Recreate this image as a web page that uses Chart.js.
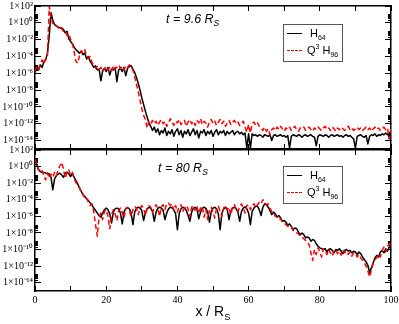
<!DOCTYPE html>
<html><head><meta charset="utf-8">
<script src="https://cdn.jsdelivr.net/npm/chart.js@4/dist/chart.umd.min.js"></script>
<style>
html,body{margin:0;padding:0;background:#fff;}
#wrap{position:relative;width:399px;height:324px;overflow:hidden;background:#fff;}
canvas{position:absolute;left:0;}
#c1{top:0;}
#c2{top:140px;}
.lbl{position:absolute;font-family:"Liberation Sans",Arial,sans-serif;font-style:italic;font-size:12.5px;line-height:1;white-space:nowrap;color:#000;z-index:5;}
.lbl sub{font-size:8.5px;vertical-align:-3px;line-height:0;}
.legend{position:absolute;width:60px;height:38px;border:1px solid #555;box-sizing:border-box;font-family:"Liberation Sans",Arial,sans-serif;font-size:11px;color:#000;z-index:5;}
.legend .smp{position:absolute;left:3px;width:15px;height:0;}
.legend .txt{position:absolute;white-space:nowrap;line-height:1;}
.legend sub{font-size:7px;vertical-align:-3px;line-height:0;}
.legend sup{font-size:7px;vertical-align:5px;line-height:0;}
#xtitle{position:absolute;left:35px;width:356px;top:304px;text-align:center;font-family:"Liberation Sans",Arial,sans-serif;font-size:14px;line-height:1;color:#000;z-index:5;}
#xtitle sub{font-size:9.5px;vertical-align:-4px;line-height:0;}
</style></head>
<body>
<div id="wrap">
<canvas id="c1" width="399" height="152"></canvas>
<canvas id="c2" width="399" height="184"></canvas>
<div class="lbl" style="left:166px;top:13px;">t = 9.6 R<sub>S</sub></div>
<div class="lbl" style="left:158px;top:162px;">t = 80 R<sub>S</sub></div>
<div class="legend" style="left:283px;top:24px;">
  <div class="smp" style="top:8px;border-top:1.5px solid #000;"></div>
  <div class="txt" style="left:26px;top:3px;">H<sub>64</sub></div>
  <div class="smp" style="top:25px;border-top:1.5px dashed #ff0000;"></div>
  <div class="txt" style="left:23px;top:20px;">Q<sup>3</sup> H<sub>96</sub></div>
</div>
<div class="legend" style="left:283px;top:166px;">
  <div class="smp" style="top:8px;border-top:1.5px solid #000;"></div>
  <div class="txt" style="left:26px;top:3px;">H<sub>64</sub></div>
  <div class="smp" style="top:25px;border-top:1.5px dashed #ff0000;"></div>
  <div class="txt" style="left:23px;top:20px;">Q<sup>3</sup> H<sub>96</sub></div>
</div>
<div id="xtitle">x / R<sub>S</sub></div>
</div>
<script>
// x positions (x / R_S)
const xValues = [
0,0.5,1,1.5,2,2.5,3,3.5,4,4.5,5,5.5,6,6.5,7,7.5,8,8.5,9,9.5,
10,10.5,11,11.5,12,12.5,13,13.5,14,14.5,15,15.5,16,16.5,17,17.5,18,18.5,19,19.5,
20,20.5,21,21.5,22,22.5,23,23.5,24,24.5,25,25.5,26,26.5,27,27.5,28,28.5,29,29.5,
30,30.5,31,31.5,32,32.5,33,33.5,34,34.5,35,35.5,36,36.5,37,37.5,38,38.5,39,39.5,
40,40.5,41,41.5,42,42.5,43,43.5,44,44.5,45,45.5,46,46.5,47,47.5,48,48.5,49,49.5,
50,50.5,51,51.5,52,52.5,53,53.5,54,54.5,55,55.5,56,56.5,57,57.5,58,58.5,59,59.5,
60,60.5,61,61.5,62,62.5,63,63.5,64,64.5,65,65.5,66,66.5,67,67.5,68,68.5,69,69.5,
70,70.5,71,71.5,72,72.5,73,73.5,74,74.5,75,75.5,76,76.5,77,77.5,78,78.5,79,79.5,
80,80.5,81,81.5,82,82.5,83,83.5,84,84.5,85,85.5,86,86.5,87,87.5,88,88.5,89,89.5,
90,90.5,91,91.5,92,92.5,93,93.5,94,94.5,95,95.5,96,96.5,97,97.5,98,98.5,99,99.5,
100];

// t = 9.6 R_S, H64
const topH64 = [
1.3e-6,4e-6,2.5e-6,1e-5,5e-6,2.5e-5,4e-5,2.5e-4,3.2e-2,16,
2,0.63,0.4,0.32,0.25,0.25,0.16,0.063,0.1,0.0126,
6.3e-3,3.2e-3,1.26e-3,6.3e-4,4e-4,2.5e-4,4e-4,1.6e-4,2.5e-4,5e-5,
1e-4,2.5e-5,1.26e-5,5e-6,8e-6,2.5e-6,3.2e-6,1.26e-7,2e-6,4e-6,
1.6e-6,5e-6,6.3e-7,3.2e-6,2.5e-6,5e-6,1e-7,2.5e-6,4e-6,1.6e-6,
5e-6,5e-7,4e-6,6.3e-6,8e-6,3.2e-6,1.26e-6,3.2e-7,6.3e-8,1e-8,
1.26e-9,2e-10,3.2e-11,6.3e-12,1.26e-12,5e-13,1.6e-13,4e-13,1e-13,2.5e-13,
5e-14,1.6e-13,8e-14,3.2e-13,4e-14,1.26e-13,6.3e-14,2e-13,3.2e-14,1.26e-13,
2.5e-13,5e-14,1.6e-13,2.5e-14,1.26e-13,6.3e-14,2e-13,4e-14,1e-13,2.5e-13,
5e-14,1.6e-13,2e-14,1.26e-13,8e-14,2e-13,4e-14,1.26e-13,6.3e-14,1.6e-13,
3.2e-14,1e-13,2e-13,5e-14,1.26e-13,8e-14,1.6e-13,4e-14,1.26e-13,6.3e-14,
1e-13,1.6e-13,5e-14,1e-13,1.26e-13,6.3e-14,1e-13,5e-14,8e-14,1.26e-15,
6.3e-14,1.26e-15,6.3e-14,4e-14,5e-14,3.2e-14,5e-14,4e-14,2.5e-14,5e-14,
4e-14,3.2e-14,5e-14,1e-14,4e-14,5e-14,3.2e-14,4e-14,5e-14,3.2e-14,
4e-14,2.5e-14,4e-14,1.26e-15,3.2e-14,5e-14,4e-14,3.2e-14,5e-14,4e-14,
2.5e-14,4e-14,5e-14,3.2e-14,4e-14,5e-14,3.2e-14,2.5e-14,2.5e-15,3.2e-14,
5e-14,4e-14,3.2e-14,5e-14,4e-14,2.5e-14,4e-14,5e-14,3.2e-14,4e-14,
5e-14,3.2e-14,4e-14,2.5e-14,4e-14,5e-14,3.2e-14,4e-14,2.5e-14,1.6e-14,
1.26e-15,3.2e-14,4e-14,5e-14,3.2e-14,2.5e-14,4e-14,4e-15,3.2e-14,5e-14,
4e-14,6.3e-14,3.2e-14,5e-14,4e-14,6.3e-14,5e-14,8e-14,5e-14,1e-13,
6.3e-14];

// t = 9.6 R_S, Q3 H96
const topQ3H96 = [
1.6e-6,6.3e-6,3.2e-6,1.6e-5,4e-5,1.26e-5,6.3e-5,1.26e-4,95,4,
0.8,1,0.5,0.25,0.4,0.2,0.1,0.126,0.032,0.05,
0.01,4e-3,3.2e-4,2.5e-5,1.6e-5,1.26e-4,5e-4,2.5e-4,6.3e-4,1.26e-4,
6.3e-5,1e-4,2e-5,1e-5,4e-6,6.3e-6,2.5e-6,5e-6,1.6e-6,3.2e-6,
6.3e-6,2.5e-6,5e-6,2e-6,8e-6,3.2e-6,5e-6,1e-5,4e-6,6.3e-6,
2.5e-6,8e-6,5e-6,1e-5,6.3e-6,2.5e-6,4e-7,5e-8,6.3e-9,6.3e-10,
6.3e-11,1e-11,3.2e-12,3.2e-13,1.6e-12,8e-13,2.5e-12,1e-12,2e-12,6.3e-13,
1.6e-12,3.2e-12,1e-12,2e-12,5e-13,1.26e-12,4e-12,1.6e-12,6.3e-13,2e-12,
1.26e-12,3.2e-12,8e-13,1.6e-12,2.5e-12,5e-13,1.6e-12,3.2e-12,1e-12,2e-12,
6.3e-13,2.5e-12,1.26e-12,4e-12,8e-13,2e-12,1.26e-12,4e-13,1.6e-12,3.2e-12,
1e-12,2e-12,6.3e-13,1.6e-12,3.2e-12,1e-12,2e-12,5e-13,1.26e-12,2.5e-12,
8e-13,1.6e-12,2.5e-12,1e-12,1.6e-12,6.3e-13,1.26e-12,2e-12,4e-13,1e-13,
8e-13,8e-14,1e-12,1.6e-12,6.3e-13,1.26e-12,5e-13,3.2e-13,1.6e-13,4e-13,
1.26e-13,2.5e-13,5e-14,2e-13,3.2e-13,1.6e-13,4e-13,2e-13,5e-13,2.5e-13,
1.26e-13,3.2e-13,2e-13,4e-13,1.6e-13,3.2e-13,5e-13,2e-13,1.26e-13,3.2e-13,
2.5e-13,4e-13,1.6e-13,2.5e-13,4e-13,2e-13,1.26e-13,3.2e-13,2e-13,4e-13,
2.5e-13,1.6e-13,3.2e-13,5e-13,2e-13,3.2e-13,1.6e-13,4e-13,2.5e-13,1.26e-13,
3.2e-13,2e-13,4e-13,2.5e-13,1.6e-13,3.2e-13,5e-13,2e-13,3.2e-13,1.6e-13,
2.5e-13,4e-13,2e-13,3.2e-13,1.6e-13,2.5e-13,4e-13,2e-13,3.2e-13,1.26e-13,
2.5e-13,4e-13,2e-13,3.2e-13,1.6e-13,2.5e-13,4e-13,2e-13,3.2e-13,1.6e-14,
2.5e-13];

// t = 80 R_S, H64
const botH64 = [
10,1.6,0.4,0.25,0.2,0.2,0.16,0.16,0.126,0.05,
1.6e-3,0.032,0.08,0.126,0.16,0.1,0.05,0.16,0.22,0.126,
0.063,0.16,0.05,0.02,8e-3,2.5e-3,1e-3,4e-4,2.5e-4,1.26e-4,
8e-5,4e-5,2.5e-5,1e-5,5e-6,2.5e-6,1.26e-6,8e-7,2.5e-6,6.3e-6,
1e-5,6.3e-6,2e-6,1.6e-7,3.2e-6,8e-6,1e-5,8e-6,2.5e-6,1.26e-7,
3.2e-6,9e-6,1.1e-5,8e-6,2.5e-6,1e-7,3.2e-6,9e-6,1.26e-5,1e-5,
5e-6,3.2e-7,2.5e-6,8e-6,1.26e-5,1e-5,4e-6,2.5e-7,3.2e-6,9e-6,
1.26e-5,1e-5,5e-6,4e-7,2.5e-6,8e-6,1.26e-5,1.1e-5,6.3e-6,2e-6,
2.5e-8,2e-6,8e-6,1.26e-5,1.1e-5,5e-6,1.26e-6,2.5e-7,3.2e-6,1e-5,
1.26e-5,8e-6,5e-7,3.2e-6,1e-5,1.26e-5,9e-6,3.2e-6,2e-7,3.2e-6,
1e-5,1.26e-5,8e-6,2e-6,2.5e-8,2.5e-6,8e-6,1.26e-5,6.3e-6,4e-7,
4e-6,1e-5,1.26e-5,8e-6,3.2e-6,2.5e-7,4e-6,1e-5,1.4e-5,8e-6,
2.5e-6,1e-7,4e-6,1e-5,1.6e-5,1.6e-5,6.3e-6,1.26e-6,1.26e-5,3.2e-5,
2.5e-5,1.26e-5,5e-6,1.6e-6,3.2e-6,2e-6,8e-7,1.26e-6,6.3e-7,2.5e-7,
3.2e-7,2e-7,8e-8,1.26e-7,6.3e-8,2.5e-8,4e-8,3.2e-8,1.26e-8,6.3e-9,
1e-8,6.3e-9,2.5e-9,3.2e-9,2.5e-9,1e-9,1.6e-9,1.26e-9,5e-10,2.5e-10,
1.6e-10,1.26e-10,1e-10,1.26e-10,5e-11,1e-10,1.26e-10,8e-11,4e-11,1e-10,
8e-11,1.26e-10,6.3e-11,3.2e-11,8e-11,1e-10,6.3e-11,8e-11,4e-11,6.3e-11,
5e-11,2.5e-11,5e-11,3.2e-11,1.26e-11,6.3e-12,3.2e-12,1.26e-12,1.6e-13,6.3e-13,
2.5e-12,1e-11,2e-11,1.26e-11,5e-11,8e-11,4e-11,1.26e-10,6.3e-11,2e-10,
1.6e-10];

// t = 80 R_S, Q3 H96
const botQ3H96 = [
8,2,0.5,0.2,0.32,0.08,0.025,0.16,0.04,0.126,
0.05,0.2,0.08,0.4,1.26,3.2,0.5,0.04,0.25,0.4,
0.1,0.2,0.032,0.0126,5e-3,3.2e-3,6.3e-4,5e-4,1.26e-4,1.6e-4,
5e-5,2e-5,3.2e-5,4e-6,1e-7,4e-9,1e-6,2.5e-6,4e-7,4e-6,
6.3e-6,1e-6,3.2e-8,1.6e-6,6.3e-6,2e-6,3.2e-7,5e-6,1e-5,3.2e-6,
6.3e-7,8e-6,1.26e-5,5e-6,1e-6,6.3e-6,1.6e-5,1e-5,1.6e-6,8e-6,
2e-5,1e-5,1.26e-6,1e-5,2e-5,1.26e-5,2.5e-6,1.26e-5,2.5e-5,1e-5,
1e-6,1.6e-5,2.5e-5,6.3e-6,3.2e-5,4e-5,2e-5,3.2e-5,5e-6,2e-5,
3.2e-6,1.6e-5,2.5e-5,4e-6,1e-5,2e-5,8e-6,1e-6,1.26e-5,2e-5,
5e-6,1.6e-5,2.5e-6,1e-5,1.6e-5,8e-7,6.3e-6,4e-7,5e-6,1.26e-5,
3.2e-6,6.3e-7,1e-5,1.6e-5,4e-6,1e-6,1e-5,2e-5,6.3e-6,1.26e-5,
1.6e-6,1.6e-5,2.5e-5,8e-6,3.2e-6,1.6e-5,3.2e-5,1e-5,2.5e-6,2e-5,
2.5e-5,6.3e-6,2e-5,3.2e-5,1e-5,2.5e-5,5e-5,3.2e-5,1e-4,5e-5,
2.5e-5,3.2e-5,1e-5,4e-6,2.5e-6,1e-6,8e-7,4e-7,5e-7,2e-7,
1.6e-7,1e-7,6.3e-8,4e-8,5e-8,2e-8,1.6e-8,1e-8,8e-9,4e-9,
3.2e-9,2e-9,1.26e-9,6.3e-10,4e-10,4e-11,5e-12,1e-10,2.5e-11,1.6e-10,
5e-11,1.26e-11,1.26e-10,6.3e-11,2.5e-11,1e-10,4e-11,1.6e-11,6.3e-11,1e-10,
3.2e-11,6.3e-11,2e-11,8e-11,4e-11,6.3e-11,2.5e-11,5e-11,1.6e-11,4e-11,
3.2e-11,1.26e-11,2.5e-11,1e-11,5e-12,2.5e-12,1e-12,2.5e-13,5e-14,4e-13,
2e-12,6.3e-12,1e-11,2.5e-11,1.26e-11,6.3e-11,2e-10,5e-11,2.5e-10,5e-10,
3.2e-10];

const seriesNames = ['H64', 'Q3 H96'];
const yTickValues = [1e2, 1e0, 1e-2, 1e-4, 1e-6, 1e-8, 1e-10, 1e-12, 1e-14];
const yTickLabels = ['1×10²','1×10⁰','1×10⁻²','1×10⁻⁴','1×10⁻⁶','1×10⁻⁸','1×10⁻¹⁰','1×10⁻¹²','1×10⁻¹⁴'];
const xTickLabels = [0, 20, 40, 60, 80, 100];
const Y_MIN = 1e-15, Y_MAX = 1e2;

const yMinorTicks = [];
yTickValues.forEach(v => { for (let m = 2; m <= 9; m++) { const t = v * m; if (t >= Y_MIN && t <= Y_MAX) yMinorTicks.push(t); } });

const SERIF = '"Liberation Serif", "Times New Roman", serif';

function zeroPad(s) { s.paddingTop = 0; s.paddingBottom = 0; s.paddingLeft = 0; s.paddingRight = 0; }

function yAxis(position, list, len, labels, border, weight) {
  return {
    type: 'logarithmic', position, min: Y_MIN, max: Y_MAX, weight,
    afterBuildTicks: s => { s.ticks = list.map(v => ({ value: v })); },
    afterFit: s => { s.width = labels ? 35 : 0; zeroPad(s); },
    border: { display: border, color: '#000', width: 1.5 },
    grid: { drawOnChartArea: false, drawTicks: true, tickLength: len, tickColor: '#000', tickWidth: 1 },
    ticks: {
      display: labels, autoSkip: false, padding: 8, color: '#000',
      font: { family: SERIF, size: 10 },
      callback: v => { const i = yTickValues.findIndex(t => Math.abs(t - v) / t < 1e-6); return i >= 0 ? yTickLabels[i] : ''; }
    }
  };
}
function xAxis(position, labels, height) {
  return {
    type: 'linear', position, min: 0, max: 100,
    afterFit: s => { s.height = height; zeroPad(s); },
    border: { display: true, color: '#000', width: 1.5 },
    grid: { drawOnChartArea: false, drawTicks: true, tickLength: -5, tickColor: '#000', tickWidth: 1 },
    ticks: {
      display: labels, stepSize: 10, autoSkip: false, maxRotation: 0, padding: 8, color: '#000',
      font: { family: SERIF, size: 10 },
      callback: v => xTickLabels.includes(v) ? String(v) : ''
    }
  };
}
function pts(arr) { return xValues.map((x, i) => ({ x, y: arr[i] })); }

function makeChart(id, h64, q3, showX, padding, xHeight) {
  return new Chart(document.getElementById(id), {
    type: 'line',
    data: {
      datasets: [
        { label: seriesNames[0], data: pts(h64), borderColor: '#000', borderWidth: 1.5, pointRadius: 0, tension: 0, borderJoinStyle: 'round', order: 2, xAxisID: 'x', yAxisID: 'y' },
        { label: seriesNames[1], data: pts(q3), borderColor: '#ff0000', borderWidth: 1.5, borderDash: [5, 3], pointRadius: 0, tension: 0, borderJoinStyle: 'round', order: 1, xAxisID: 'x', yAxisID: 'y' }
      ]
    },
    options: {
      responsive: false, animation: false, events: [],
      layout: { padding },
      plugins: { legend: { display: false }, tooltip: { enabled: false } },
      scales: {
        x: xAxis('bottom', showX, xHeight),
        xT: xAxis('top', false, 0),
        y: yAxis('left', yTickValues, -6, true, true, 2),
        yMinL: yAxis('left', yMinorTicks, -3, false, false, 0),
        yR: yAxis('right', yTickValues, -6, false, true, 0),
        yMinR: yAxis('right', yMinorTicks, -3, false, false, 2)
      }
    }
  });
}

makeChart('c1', topH64, topQ3H96, false, { left: 0, right: 8, top: 6, bottom: 3 }, 0);
makeChart('c2', botH64, botQ3H96, true, { left: 0, right: 8, top: 10, bottom: 0 }, 33);
</script>
</body></html>
